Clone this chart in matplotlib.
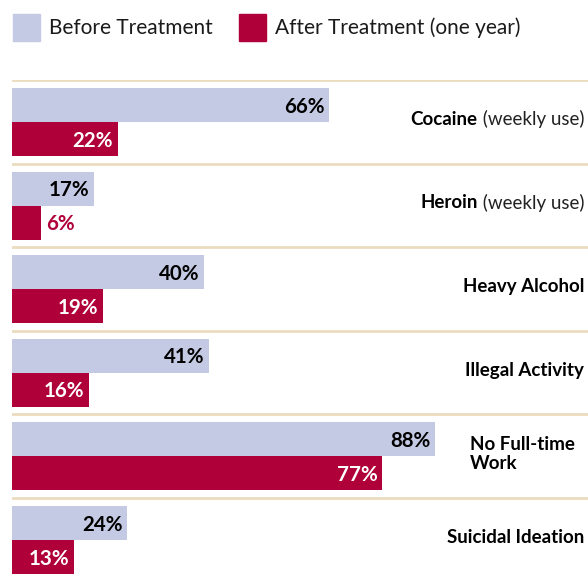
import matplotlib.pyplot as plt
from matplotlib.patches import Rectangle

plt.rcParams["font.family"] = ["Lato", "DejaVu Sans"]

# outcomes, percent of patients
categories = ["Cocaine", "Heroin", "Heavy Alcohol", "Illegal Activity",
              "No Full-time\nWork", "Suicidal Ideation"]
qualifiers = ["(weekly use)", "(weekly use)", "", "", "", ""]
before = [66, 17, 40, 41, 88, 24]
after = [22, 6, 19, 16, 77, 13]

BEFORE_COLOR = "#c5cae4"
AFTER_COLOR = "#b0003a"
RULE_COLOR = "#ebdcc0"

W, H = 588, 577
fig = plt.figure(figsize=(W / 100, H / 100), dpi=100)

# plot area: x=0% at pixel 12, rows of ~83.6 px starting at pixel 80
row_px = 83.6
px_per_pct = 4.807
ax = fig.add_axes([12 / W, 0, 1 - 12 / W, (H - 80) / H])
ax.set_xlim(0, (W - 12) / px_per_pct)
ax.set_ylim((H - 80) / row_px, 0)
ax.axis("off")

bar_h = 34 / row_px
gap = 8 / row_px
label_pad = 1.0  # percent units
VAL_SIZE = 14.8
CAT_SIZE = 13.5

for i, (b, a) in enumerate(zip(before, after)):
    ax.axhline(i, color=RULE_COLOR, lw=2, xmin=0, xmax=1)
    yb = i + gap + bar_h / 2
    ya = yb + bar_h
    ax.barh(yb, b, height=bar_h, color=BEFORE_COLOR, align="center")
    ax.barh(ya, a, height=bar_h, color=AFTER_COLOR, align="center")
    ax.text(b - label_pad, yb + 0.02, f"{b}%", ha="right", va="center",
            fontsize=VAL_SIZE, fontweight="bold", color="black")
    if a >= 10:
        ax.text(a - label_pad, ya + 0.02, f"{a}%", ha="right", va="center",
                fontsize=VAL_SIZE, fontweight="bold", color="white")
    else:
        ax.text(a + label_pad, ya + 0.02, f"{a}%", ha="left", va="center",
                fontsize=VAL_SIZE, fontweight="bold", color=AFTER_COLOR)

# category names on the right, bold name followed by a plain qualifier
x_right = (584 - 12) / px_per_pct
for i, (name, qual) in enumerate(zip(categories, qualifiers)):
    yc = i + 0.47
    if qual:
        q = ax.text(x_right, yc, " " + qual, ha="right", va="center",
                    fontsize=CAT_SIZE, color="#222222")
        ax.annotate(name, xy=(0, 0.5), xycoords=q, ha="right", va="center",
                    fontsize=CAT_SIZE, fontweight="bold", color="black")
    elif "\n" in name:
        ax.text((470 - 12) / px_per_pct, yc, name, ha="left", va="center",
                fontsize=CAT_SIZE, fontweight="bold", color="black",
                linespacing=1.15)
    else:
        ax.text(x_right, yc, name, ha="right", va="center",
                fontsize=CAT_SIZE, fontweight="bold", color="black")

# legend
for x0, color, label in [(13, BEFORE_COLOR, "Before Treatment"),
                         (239, AFTER_COLOR, "After Treatment (one year)")]:
    fig.patches.append(Rectangle((x0 / W, 1 - 41 / H), 27 / W, 27 / H,
                                 transform=fig.transFigure, color=color))
    fig.text((x0 + 36) / W, 1 - 28 / H, label, ha="left", va="center",
             fontsize=15, color="#1a1a1a")

fig.savefig("out.png", dpi=100)
